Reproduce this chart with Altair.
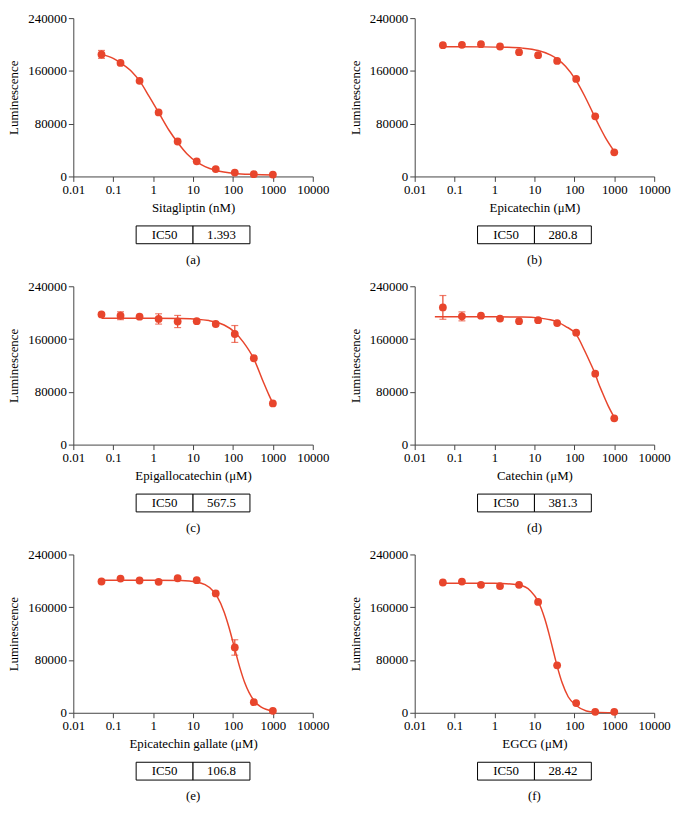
import altair as alt
import pandas as pd

RED = "#E8452C"
FONT = "Liberation Serif"
W, H = 242, 160

# three-fold dilution series (concentration)
conc = [0.0508, 0.1524, 0.4572, 1.372, 4.115, 12.35, 37.04, 111.1, 333.3, 1000]

titles = ["Sitagliptin (nM)", "Epicatechin (μM)", "Epigallocatechin (μM)",
          "Catechin (μM)", "Epicatechin gallate (μM)", "EGCG (μM)"]
ic50 = ["1.393", "280.8", "567.5", "381.3", "106.8", "28.42"]
letters = ["(a)", "(b)", "(c)", "(d)", "(e)", "(f)"]

# measured points (luminescence) and error half-widths
sita_y = [185000, 172000, 144900, 97000, 53000, 22900, 11200, 5800, 3400, 2900]
sita_e = [6000, 2500, 0, 0, 0, 0, 0, 0, 0, 0]
epi_y = [199000, 199500, 200500, 197000, 188300, 183900, 175100, 147800, 91200, 36600]
epi_e = [0, 0, 0, 0, 0, 0, 0, 0, 0, 0]
egc_y = [197300, 195400, 193900, 190500, 186600, 187100, 182800, 167700, 130900, 62500]
egc_e = [2500, 6000, 0, 7800, 9200, 0, 0, 12800, 0, 0]
cat_y = [208000, 194400, 195400, 191000, 187100, 188600, 184200, 169700, 107600, 39800]
cat_e = [18000, 6800, 0, 0, 0, 0, 0, 0, 0, 0]
ecg_y = [199000, 203400, 200500, 198500, 203900, 201000, 181000, 99000, 16100, 2900]
ecg_e = [0, 0, 0, 0, 0, 0, 0, 11700, 0, 0]
egcg_y = [197500, 198900, 194000, 192100, 194000, 168100, 71900, 14700, 1500, 1500]
egcg_e = [0, 0, 0, 0, 0, 0, 0, 0, 0, 0]

# fitted curves
sita_cx = [0.0508, 0.1, 0.1524, 0.3, 0.4572, 0.8, 1.372, 2.5, 4.115, 7, 12.35, 20, 37.04, 111.1, 333.3, 1000]
sita_cy = [185000, 179000, 172000, 158000, 144900, 121000, 97000, 70000, 51500, 34500, 22000, 15000, 9300, 4500, 3000, 2300]
epi_cx = [0.0508, 0.5, 2, 5, 12.35, 25, 37.04, 60, 111.1, 180, 280.8, 400, 600, 1000]
epi_cy = [196600, 196400, 195800, 194500, 190800, 184300, 178200, 166900, 145300, 122300, 98300, 79100, 58900, 38000]
egc_cx = [0.0508, 1, 5, 12.35, 25, 37.04, 60, 111.1, 180, 333.3, 567.5, 800, 1000]
egc_cy = [191500, 191400, 191000, 190100, 188000, 185900, 181300, 170400, 155700, 130000, 96000, 75000, 62500]
cat_cx = [0.032, 1, 5, 12.35, 25, 37.04, 60, 111.1, 180, 250, 333.3, 381.3, 500, 700, 1000]
cat_cy = [193900, 193800, 193400, 192100, 189200, 186100, 179400, 167000, 142600, 124100, 107000, 96950, 79300, 59100, 41200]
ecg_cx = [0.0508, 1, 5, 12.35, 20, 30, 40, 60, 80, 106.8, 150, 200, 333.3, 500, 1000]
ecg_cy = [201000, 201000, 200600, 198400, 194200, 186300, 176300, 152700, 128800, 100500, 67700, 44600, 18700, 8800, 2500]
egcg_cx = [0.0508, 1, 4.115, 8, 12.35, 18, 23, 28.42, 37.04, 50, 70, 111.1, 200, 333.3, 1000]
egcg_cy = [196500, 196400, 193600, 184700, 169100, 143300, 120400, 98250, 70800, 44600, 24300, 11000, 2800, 1000, 200]

series = [
    (sita_y, sita_e, sita_cx, sita_cy),
    (epi_y, epi_e, epi_cx, epi_cy),
    (egc_y, egc_e, egc_cx, egc_cy),
    (cat_y, cat_e, cat_cx, cat_cy),
    (ecg_y, ecg_e, ecg_cx, ecg_cy),
    (egcg_y, egcg_e, egcg_cx, egcg_cy),
]


def panel(i):
    y, err, cx, cy = series[i]
    pts = pd.DataFrame({"c": conc, "v": y, "e": err})
    pts["lo"] = pts["v"] - pts["e"]
    pts["hi"] = pts["v"] + pts["e"]
    eb = pts[pts["e"] > 0]
    cur = pd.DataFrame({"c": cx, "v": cy})

    xenc = alt.X("c:Q",
                 scale=alt.Scale(type="log", domain=[0.01, 10000], nice=False),
                 axis=alt.Axis(values=[0.01, 0.1, 1, 10, 100, 1000, 10000],
                               format="~g", title=titles[i], titlePadding=5,
                               labelFlush=False, labelOverlap=False))
    yenc = alt.Y("v:Q",
                 scale=alt.Scale(domain=[0, 240000], nice=False),
                 axis=alt.Axis(values=[0, 80000, 160000, 240000], format="d",
                               title="Luminescence", titlePadding=7,
                               labelFlush=False, labelOverlap=False))

    layers = [alt.Chart(cur).mark_line(color=RED, strokeWidth=1.5, interpolate="monotone")
              .encode(x=xenc, y=yenc)]
    if len(eb):
        layers.append(alt.Chart(eb).mark_rule(color=RED, strokeWidth=1.2)
                      .encode(x="c:Q", y="lo:Q", y2="hi:Q"))
        layers.append(alt.Chart(eb).mark_tick(color=RED, orient="horizontal", size=7, thickness=1.2)
                      .encode(x="c:Q", y="lo:Q"))
        layers.append(alt.Chart(eb).mark_tick(color=RED, orient="horizontal", size=7, thickness=1.2)
                      .encode(x="c:Q", y="hi:Q"))
    layers.append(alt.Chart(pts).mark_circle(size=62, color=RED, opacity=1)
                  .encode(x="c:Q", y="v:Q"))
    plot = alt.layer(*layers).properties(width=W, height=H)

    tdf = pd.DataFrame({"k": ["IC50", ic50[i]]})
    tx = alt.X("k:N", sort=None, scale=alt.Scale(paddingInner=0, paddingOuter=0), axis=None)
    box = alt.Chart(tdf).mark_rect(fill="white", stroke="black", strokeWidth=1).encode(x=tx)
    txt = alt.Chart(tdf).mark_text(font=FONT, fontSize=13, color="black").encode(x=tx, text="k:N")
    table = alt.layer(box, txt).properties(
        width=115, height=18,
        title=alt.TitleParams(letters[i], orient="bottom", offset=10, font=FONT,
                              fontSize=13, fontWeight="normal", color="black"))
    return alt.vconcat(plot, table, spacing=50, bounds="flush", center=True)


chart = alt.concat(*[panel(i) for i in range(6)], columns=2,
                   spacing={"row": 13, "column": 20}).properties(padding=0)

chart = chart.configure_axis(
    labelFont=FONT, titleFont=FONT, labelFontSize=13, titleFontSize=13,
    titleFontWeight="normal", grid=False, domainColor="#444", tickColor="#444",
    labelColor="black", titleColor="black", tickSize=5, labelPadding=2,
).configure_view(stroke=None)

chart.save("out.html", embed_options={"renderer": "svg", "actions": False})
